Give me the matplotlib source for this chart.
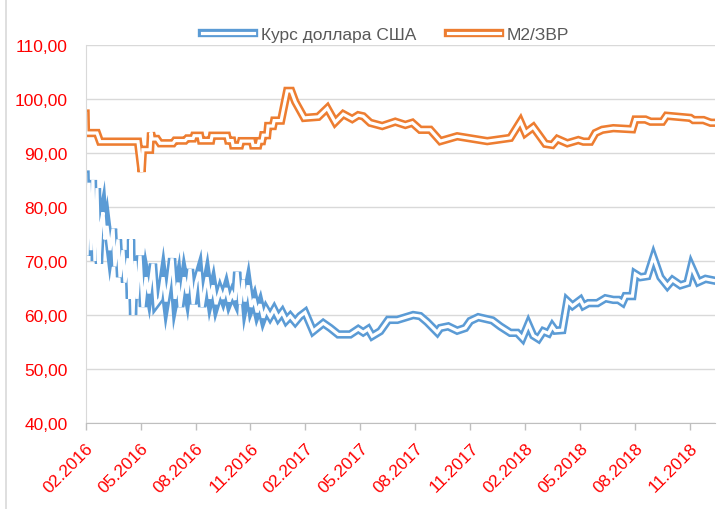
"""
plot.py - exchange rate vs M2/reserves chart (Excel-style double lines).
"""

import matplotlib
matplotlib.use("Agg")
import matplotlib.pyplot as plt
import matplotlib.patheffects as pe
from matplotlib.lines import Line2D

plt.rcParams["font.family"] = ["Liberation Sans", "DejaVu Sans"]

# ── Data (x = months since 02.2016) ───────────────────────────────────────────
usd_x = [
    0.00, 0.08, 0.19, 0.30, 0.40, 0.51, 0.62, 0.73, 0.84, 0.95, 1.06, 1.17,
    1.33, 1.50, 1.60, 1.77, 1.88, 2.04, 2.15, 2.32, 2.42, 2.48, 2.59, 2.70,
    2.81, 2.97, 3.13, 3.30, 3.46, 3.68, 3.84, 4.06, 4.23, 4.39, 4.56, 4.72,
    4.88, 5.05, 5.16, 5.38, 5.54, 5.70, 5.87, 6.03, 6.20, 6.36, 6.52, 6.63,
    6.79, 6.96, 7.12, 7.34, 7.50, 7.67, 7.83, 8.00, 8.16, 8.27, 8.43, 8.60,
    8.70, 8.87, 9.03, 9.20, 9.36, 9.52, 9.69, 9.85, 10.07, 10.29, 10.51,
    10.73, 10.95, 11.17, 11.44, 11.71, 11.98, 12.42, 12.97, 13.35, 13.79,
    14.44, 14.88, 15.15, 15.42, 15.64, 16.08, 16.52, 17.01, 17.88, 18.26,
    18.64, 19.19, 19.36, 19.79, 20.28, 20.72, 20.99, 21.43, 22.20, 22.63,
    23.18, 23.56, 23.84, 24.16, 24.43, 24.71, 24.98, 25.26, 25.47, 25.64,
    26.02, 26.29, 26.57, 27.00, 27.17, 27.44, 27.93, 28.37, 28.80, 29.08,
    29.30, 29.46, 29.84, 30.00, 30.28, 30.66, 30.99, 31.37, 31.75, 32.03,
    32.46, 32.84, 33.06, 33.44, 33.83, 34.27,
]
usd_y = [
    86.0, 71.0, 84.5, 72.0, 85.0, 70.0, 83.5, 69.5, 77.0, 79.0, 74.0, 76.5,
    72.0, 76.0, 69.0, 74.0, 67.0, 72.0, 66.0, 70.5, 63.0, 74.0, 60.0, 70.0,
    63.0, 71.0, 61.5, 67.0, 64.0, 69.5, 62.0, 63.0, 67.0, 62.5, 66.0, 70.5,
    63.0, 66.0, 61.5, 67.0, 64.0, 68.5, 62.0, 66.0, 68.0, 61.5, 65.0, 67.0,
    63.0, 65.5, 62.0, 64.5, 63.0, 65.0, 62.5, 64.0, 62.8, 68.0, 62.0, 66.5,
    62.5, 65.5, 61.5, 63.0, 60.5, 62.0, 59.5, 61.0, 59.7, 61.0, 59.5,
    60.5, 59.0, 59.8, 58.7, 59.8, 60.5, 57.0, 58.5, 57.6, 56.4,
    56.4, 57.4, 56.8, 57.4, 56.1, 57.0, 59.1, 59.1, 60.0, 59.8,
    58.7, 56.8, 57.6, 57.9, 57.1, 57.6, 58.9, 59.6, 59.0, 57.9,
    56.7, 56.7, 55.7, 58.3, 56.2, 55.6, 57.0, 56.6, 57.9, 57.1,
    57.2, 62.6, 61.7, 62.8, 61.7, 62.2, 62.2, 63.1, 62.8, 62.8,
    62.3, 63.5, 63.5, 67.6, 67.0, 67.2, 70.7, 67.0, 65.4, 66.5,
    65.5, 65.9, 69.0, 66.1, 66.7, 66.4,
]

m2_x = [
    0.00, 0.02, 0.62, 0.79, 2.86, 3.06, 3.13, 3.52, 3.57, 3.63, 3.90, 4.06,
    4.77, 4.88, 5.43, 5.54, 5.87, 5.92, 6.25, 6.30, 6.85, 6.90, 7.72, 7.78,
    8.00, 8.05, 8.43, 8.49, 9.09, 9.14, 9.42, 9.47, 9.63, 9.69, 9.91, 9.96,
    10.23, 10.29, 10.67, 11.00, 11.22, 11.44, 11.93, 12.70, 13.19, 13.62,
    14.06, 14.55, 14.88, 15.15, 15.53, 16.19, 16.90, 17.45, 17.83, 18.26,
    18.81, 19.36, 20.28, 20.83, 21.92, 23.18, 23.73, 24.00, 24.43, 24.71,
    25.09, 25.47, 25.75, 26.29, 26.89, 27.17, 27.55, 27.82, 28.20, 28.80,
    29.84, 30.00, 30.55, 30.83, 31.48, 31.70, 33.01, 33.17, 33.72, 34.11,
    34.27,
]
m2_y = [
    97.3, 93.7, 93.7, 92.1, 92.1, 86.5, 90.6, 90.6, 93.8, 92.6, 92.6, 91.8,
    91.8, 92.3, 92.3, 92.7, 92.7, 93.2, 93.2, 92.3, 92.3, 93.2, 93.2, 92.3,
    92.3, 91.4, 91.4, 92.2, 92.2, 91.4, 91.4, 92.2, 92.2, 93.3, 93.3, 95.0,
    95.0, 96.0, 96.0, 101.5, 101.5, 99.5, 96.5, 96.7, 98.3, 95.7,
    97.2, 96.3, 97.0, 96.8, 95.6, 95.0, 95.8, 95.2, 95.6, 94.3,
    94.3, 92.2, 93.1, 92.8, 92.2, 92.8, 95.8, 93.7, 94.8, 93.5,
    91.7, 91.5, 92.6, 91.8, 92.4, 92.1, 92.1, 93.7, 94.3, 94.6,
    94.4, 96.2, 96.2, 95.8, 95.8, 96.9, 96.5, 96.1, 96.1, 95.6,
    95.6,
]

tick_pos = [0, 3, 6, 9, 12, 15, 18, 21, 24, 27, 30, 33]
tick_labels = ["02.2016", "05.2016", "08.2016", "11.2016", "02.2017", "05.2017",
               "08.2017", "11.2017", "02.2018", "05.2018", "08.2018", "11.2018"]
y_ticks = [40, 50, 60, 70, 80, 90, 100, 110]
y_labels = ["40,00", "50,00", "60,00", "70,00", "80,00", "90,00", "100,00", "110,00"]

BLUE = "#5B9BD5"
ORANGE = "#ED7D31"
RED = "#FF0000"

# ── Figure ────────────────────────────────────────────────────────────────────
fig = plt.figure(figsize=(7.21, 5.10), dpi=100)
ax = fig.add_axes([0.1187, 0.1686, 0.873, 0.7412])

# chart-area border (only left edge visible in the crop)
fig.add_artist(Line2D([6 / 721, 6 / 721], [0, 1], color="#d9d9d9", lw=1.2,
                      transform=fig.transFigure))


def double_line(x, y, color, label):
    # Excel "double" compound line: wide coloured stroke with white core
    ax.plot(x, y, color="white", lw=2.3, label=label, solid_joinstyle="miter",
            path_effects=[pe.Stroke(linewidth=6.0, foreground=color), pe.Normal()])


double_line(usd_x, usd_y, BLUE, "Курс доллара США")
double_line(m2_x, m2_y, ORANGE, "М2/ЗВР")

ax.set_xlim(0, 34.35)
ax.set_ylim(40, 110)
ax.set_yticks(y_ticks)
ax.set_yticklabels(y_labels)
ax.set_xticks(tick_pos)
ax.set_xticklabels(tick_labels, rotation=45, ha="right", va="top",
                   rotation_mode="anchor")

ax.grid(axis="y", color="#d9d9d9", lw=1.0)
ax.set_axisbelow(True)
for s in ["top", "right"]:
    ax.spines[s].set_visible(False)
ax.spines["left"].set_color("#d9d9d9")
ax.spines["bottom"].set_color("#bfbfbf")

ax.tick_params(axis="y", length=0, pad=13, labelsize=12.5, labelcolor=RED)
ax.tick_params(axis="x", length=5, width=1, color="#bfbfbf", pad=7,
               labelsize=12.5, labelcolor=RED)

leg = fig.legend(loc="center", bbox_to_anchor=(0.535, 0.931), ncol=2,
                 frameon=False, fontsize=12.5, handlelength=3.0,
                 handletextpad=0.4, columnspacing=1.8)
for t in leg.get_texts():
    t.set_color("#595959")

plt.savefig("out.png", dpi=100)
plt.close()
